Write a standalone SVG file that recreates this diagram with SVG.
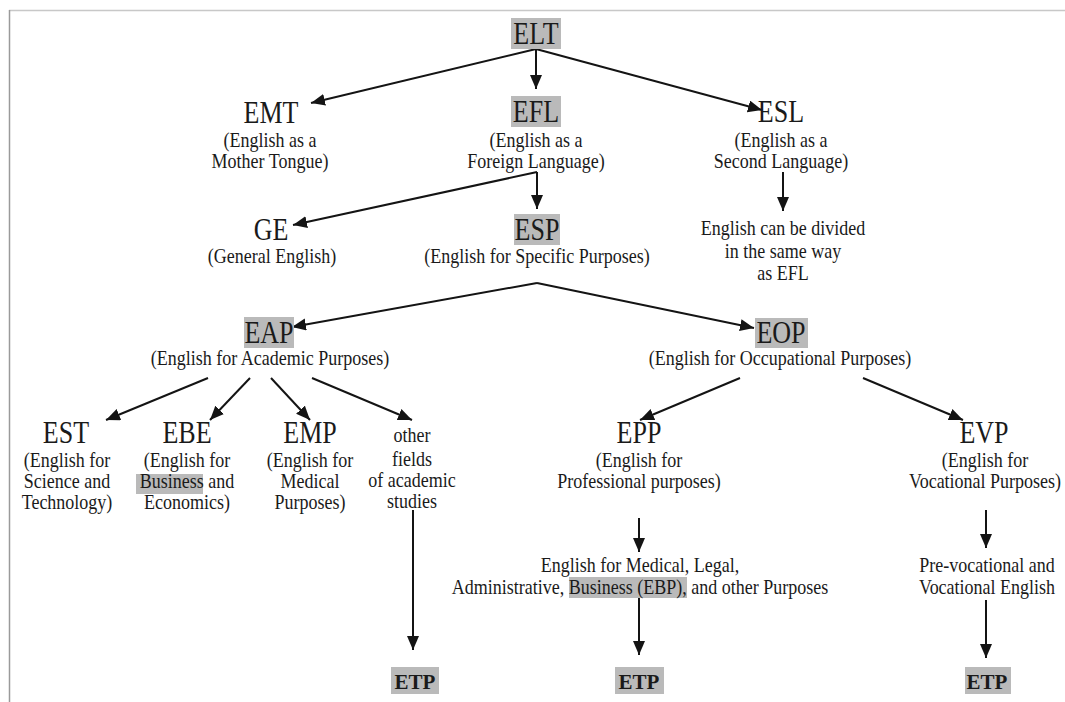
<svg xmlns="http://www.w3.org/2000/svg" width="1065" height="702" viewBox="0 0 1065 702" font-family="'Liberation Serif', 'Times New Roman', 'DejaVu Serif', serif">
<style>
text{font-family:'Liberation Serif','Times New Roman','DejaVu Serif',serif;fill:#1a1a1a;text-anchor:middle}
.b{font-size:31px}
.s{font-size:20px}
.e{font-size:21px;font-weight:bold}
.hl{fill:#bababa}
.c line{stroke:#141414;stroke-width:2;marker-end:url(#ah)}
</style>
<defs>
<marker id="ah" markerUnits="userSpaceOnUse" markerWidth="15" markerHeight="13" refX="14" refY="6" orient="auto">
<path d="M0,0 L14,6 L0,12 z" fill="#141414"/>
</marker>
</defs>
<rect width="1065" height="702" fill="#fff"/>
<line x1="9" y1="10.5" x2="1065" y2="10.5" stroke="#c8c8c8" stroke-width="1.5"/>
<line x1="9.5" y1="10" x2="9.5" y2="702" stroke="#9a9a9a" stroke-width="1.5"/>

<g class="c" id="connectors">
<line x1="536" y1="49" x2="311" y2="103"/>
<line x1="536" y1="49" x2="536" y2="89"/>
<line x1="536" y1="49" x2="762" y2="110"/>
<line x1="537" y1="172" x2="293" y2="225"/>
<line x1="537" y1="172" x2="537" y2="209"/>
<line x1="783" y1="172" x2="783" y2="211"/>
<line x1="537" y1="283" x2="292" y2="327"/>
<line x1="537" y1="283" x2="754" y2="328"/>
<line x1="208" y1="378" x2="106" y2="420"/>
<line x1="250" y1="378" x2="210" y2="420"/>
<line x1="271" y1="378" x2="310" y2="420"/>
<line x1="312" y1="378" x2="412" y2="420"/>
<line x1="413" y1="510" x2="413" y2="650"/>
<line x1="740" y1="378" x2="640" y2="420"/>
<line x1="863" y1="378" x2="963" y2="420"/>
<line x1="639" y1="518" x2="639" y2="552"/>
<line x1="639" y1="598" x2="639" y2="655"/>
<line x1="986" y1="510" x2="986" y2="548"/>
<line x1="986" y1="600" x2="986" y2="658"/>
</g>

<g id="ELT"><rect class="hl" x="511" y="18" width="50" height="31"/><text class="b" transform="translate(536 44) scale(0.84 1)">ELT</text></g>
<g id="EMT"><text class="b" transform="translate(271 123) scale(0.84 1)">EMT</text>
<text class="s" transform="translate(270 147) scale(0.9 1)">(English as a<tspan x="0" dy="21">Mother Tongue)</tspan></text></g>
<g id="EFL"><rect class="hl" x="511" y="96" width="50" height="31"/><text class="b" transform="translate(536 122) scale(0.84 1)">EFL</text>
<text class="s" transform="translate(536 147) scale(0.9 1)">(English as a<tspan x="0" dy="21">Foreign Language)</tspan></text></g>
<g id="ESL"><text class="b" transform="translate(781 122) scale(0.84 1)">ESL</text>
<text class="s" transform="translate(781 147) scale(0.9 1)">(English as a<tspan x="0" dy="21">Second Language)</tspan></text></g>

<g id="GE"><text class="b" transform="translate(271 240) scale(0.84 1)">GE</text>
<text class="s" transform="translate(272 263) scale(0.9 1)">(General English)</text></g>
<g id="ESP"><rect class="hl" x="514" y="214" width="46" height="31"/><text class="b" transform="translate(537 240) scale(0.84 1)">ESP</text>
<text class="s" transform="translate(537 263) scale(0.9 1)">(English for Specific Purposes)</text></g>
<g id="ESL-note"><text class="s" transform="translate(783 235) scale(0.9 1)">English can be divided<tspan x="0" dy="23">in the same way</tspan><tspan x="0" dy="22">as EFL</tspan></text></g>

<g id="EAP"><rect class="hl" x="244" y="317" width="50" height="31"/><text class="b" transform="translate(269 343) scale(0.84 1)">EAP</text>
<text class="s" transform="translate(270 365) scale(0.9 1)">(English for Academic Purposes)</text></g>
<g id="EOP"><rect class="hl" x="755" y="318" width="53" height="30"/><text class="b" transform="translate(781 343) scale(0.84 1)">EOP</text>
<text class="s" transform="translate(780 365) scale(0.9 1)">(English for Occupational Purposes)</text></g>

<g id="EST"><text class="b" transform="translate(66 443) scale(0.84 1)">EST</text>
<text class="s" transform="translate(67 467) scale(0.9 1)">(English for<tspan x="0" dy="21">Science and</tspan><tspan x="0" dy="21">Technology)</tspan></text></g>
<g id="EBE"><rect class="hl" x="136" y="474" width="67" height="20"/><text class="b" transform="translate(187 443) scale(0.84 1)">EBE</text>
<text class="s" transform="translate(187 467) scale(0.9 1)">(English for<tspan x="0" dy="21">Business and</tspan><tspan x="0" dy="21">Economics)</tspan></text></g>
<g id="EMP"><text class="b" transform="translate(310 443) scale(0.84 1)">EMP</text>
<text class="s" transform="translate(310 467) scale(0.9 1)">(English for<tspan x="0" dy="21">Medical</tspan><tspan x="0" dy="21">Purposes)</tspan></text></g>
<g id="other"><text class="s" transform="translate(412 442) scale(0.9 1)">other<tspan x="0" dy="24">fields</tspan><tspan x="0" dy="21">of academic</tspan><tspan x="0" dy="21">studies</tspan></text></g>

<g id="EPP"><text class="b" transform="translate(639 443) scale(0.84 1)">EPP</text>
<text class="s" transform="translate(639 467) scale(0.9 1)">(English for<tspan x="0" dy="21">Professional purposes)</tspan></text></g>
<g id="EVP"><text class="b" transform="translate(984 443) scale(0.84 1)">EVP</text>
<text class="s" transform="translate(985 467) scale(0.9 1)">(English for<tspan x="0" dy="21">Vocational Purposes)</tspan></text></g>

<g id="EPP-note"><rect class="hl" x="569" y="577" width="118" height="21"/>
<text class="s" transform="translate(640 572) scale(0.9 1)">English for Medical, Legal,<tspan x="0" dy="22">Administrative, Business (EBP), and other Purposes</tspan></text></g>
<g id="EVP-note"><text class="s" transform="translate(987 572) scale(0.9 1)">Pre-vocational and<tspan x="0" dy="22">Vocational English</tspan></text></g>

<g id="ETP1"><rect class="hl" x="391" y="667" width="48" height="27"/><text class="e" x="415" y="689">ETP</text></g>
<g id="ETP2"><rect class="hl" x="615" y="667" width="49" height="27"/><text class="e" x="639" y="689">ETP</text></g>
<g id="ETP3"><rect class="hl" x="965" y="667" width="46" height="27"/><text class="e" x="987" y="689">ETP</text></g>
</svg>
